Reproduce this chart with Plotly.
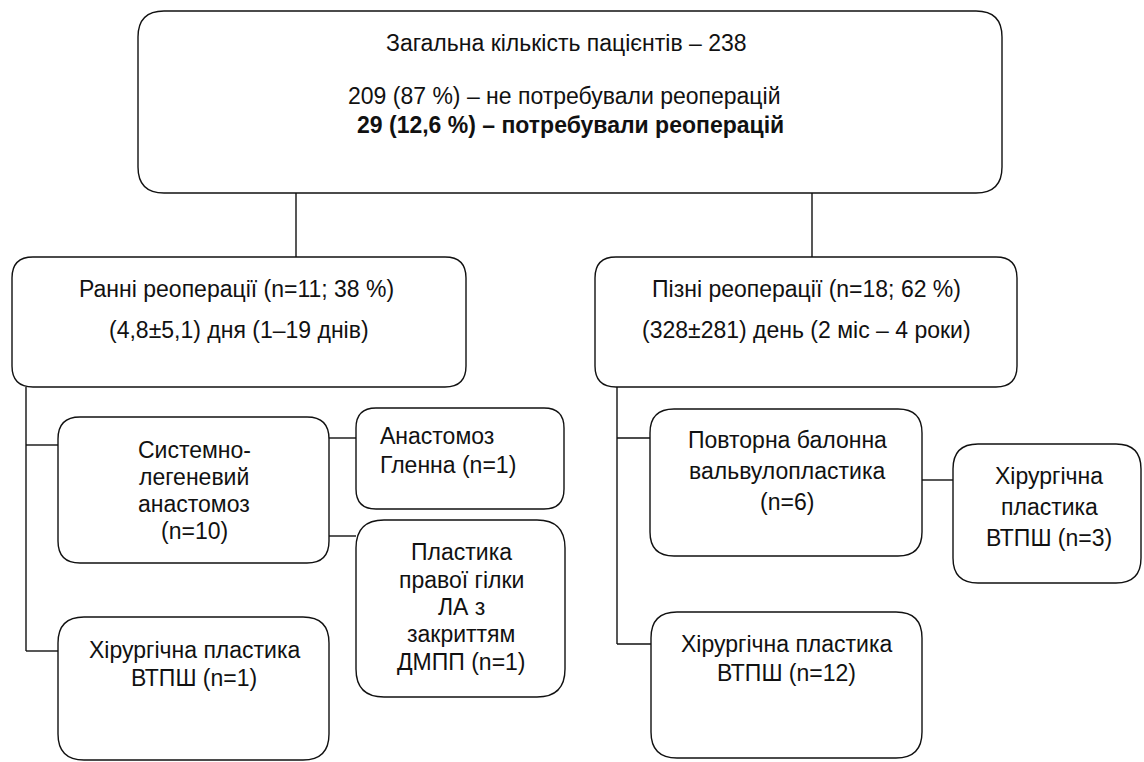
import plotly.graph_objects as go

# ---------------- data (values & labels) ----------------
total_patients = 238
no_reop_n, no_reop_pct = 209, "87"
reop_n, reop_pct = 29, "12,6"
early_n, early_pct = 11, 38
late_n, late_pct = 18, 62
early_time = "(4,8±5,1) дня (1–19 днів)"
late_time = "(328±281) день (2 міс – 4 роки)"

shunt_n = 10
glenn_n = 1
rpa_n = 1
early_rvot_n = 1
rebv_n = 6
rebv_rvot_n = 3
late_rvot_n = 12

top_lines = [
    f"Загальна кількість пацієнтів – {total_patients}",
    f"{no_reop_n} ({no_reop_pct} %) – не потребували реоперацій",
    f"<b>{reop_n} ({reop_pct} %) – потребували реоперацій</b>",
]
early_lines = [f"Ранні реоперації (n={early_n}; {early_pct} %)", early_time]
late_lines = [f"Пізні реоперації (n={late_n}; {late_pct} %)", late_time]
shunt_lines = ["Системно-", "легеневий", "анастомоз", f"(n={shunt_n})"]
glenn_lines = ["Анастомоз", f"Гленна (n={glenn_n})"]
rpa_lines = ["Пластика", "правої гілки", "ЛА з", "закриттям", f"ДМПП (n={rpa_n})"]
early_rvot_lines = ["Хірургічна пластика", f"ВТПШ (n={early_rvot_n})"]
rebv_lines = ["Повторна балонна", "вальвулопластика", f"(n={rebv_n})"]
rebv_rvot_lines = ["Хірургічна", "пластика", f"ВТПШ (n={rebv_rvot_n})"]
late_rvot_lines = ["Хірургічна пластика", f"ВТПШ (n={late_rvot_n})"]

# ---------------- layout geometry (pixels) ----------------
W, H = 1144, 762
FONT = "Liberation Sans, Arial, Helvetica, sans-serif"
FS = 23

# box: (x0, y0, x1, y1, radius), text x, text anchor, line y positions
boxes = [
    ((138, 11, 1002, 193, 26), [566, 564, 570], "center", [43, 96, 125], top_lines),
    ((12, 257, 466, 387, 21), [236, 239], "center", [289, 330], early_lines),
    ((595, 257, 1017, 387, 21), [806, 806], "center", [289, 330], late_lines),
    ((58, 417, 329, 563, 22), [194] * 4, "center", [450, 477, 504, 531], shunt_lines),
    ((356, 408, 564, 509, 20), [378, 378], "left", [436, 465], glenn_lines),
    ((356, 520, 565, 697, 28), [461] * 5, "center", [552, 580, 607, 634, 662], rpa_lines),
    ((58, 617, 329, 760, 26), [194, 194], "center", [650, 678], early_rvot_lines),
    ((650, 409, 922, 556, 24), [787] * 3, "center", [440, 471, 502], rebv_lines),
    ((953, 444, 1141, 583, 25), [1049] * 3, "center", [476, 507, 538], rebv_rvot_lines),
    ((651, 612, 922, 758, 26), [786, 786], "center", [644, 673], late_rvot_lines),
]

connectors = [
    (296, 193, 296, 257),
    (812, 193, 812, 257),
    (26, 387, 26, 651), (26, 445, 58, 445), (26, 651, 58, 651),
    (329, 438, 356, 438), (329, 536, 356, 536),
    (617, 387, 617, 644), (617, 438, 650, 438), (617, 644, 651, 644),
    (922, 480, 953, 480),
]


def rrect(x0, y0, x1, y1, r):
    return (f"M {x0 + r},{y0} L {x1 - r},{y0} Q {x1},{y0} {x1},{y0 + r} "
            f"L {x1},{y1 - r} Q {x1},{y1} {x1 - r},{y1} "
            f"L {x0 + r},{y1} Q {x0},{y1} {x0},{y1 - r} "
            f"L {x0},{y0 + r} Q {x0},{y0} {x0 + r},{y0} Z")


LINE = dict(color="#111111", width=1.4)
shapes = []
annotations = []
for (x0, y0, x1, y1, r), txs, anchor, tys, lines in boxes:
    shapes.append(dict(type="path", path=rrect(x0, y0, x1, y1, r), xref="x", yref="y",
                       line=LINE, fillcolor="rgba(0,0,0,0)", layer="above"))
    for tx, ty, t in zip(txs, tys, lines):
        annotations.append(dict(x=tx, y=ty, xref="x", yref="y", text=t, showarrow=False,
                                xanchor=anchor, yanchor="middle",
                                font=dict(family=FONT, size=FS, color="#111111")))
for x0, y0, x1, y1 in connectors:
    shapes.append(dict(type="line", x0=x0, y0=y0, x1=x1, y1=y1, xref="x", yref="y",
                       line=LINE, layer="above"))

fig = go.Figure()
fig.add_trace(go.Scatter(x=[0, W], y=[0, H], mode="markers", marker=dict(opacity=0),
                         hoverinfo="skip", showlegend=False))
fig.update_layout(
    width=W, height=H,
    margin=dict(l=0, r=0, t=0, b=0),
    paper_bgcolor="white", plot_bgcolor="white",
    xaxis=dict(range=[0, W], visible=False, fixedrange=True),
    yaxis=dict(range=[H, 0], visible=False, fixedrange=True),
    shapes=shapes, annotations=annotations, showlegend=False,
)
fig.write_html("out.html", config={"displayModeBar": False},
               post_script="document.body.style.margin='0px';document.body.style.overflow='hidden';")
